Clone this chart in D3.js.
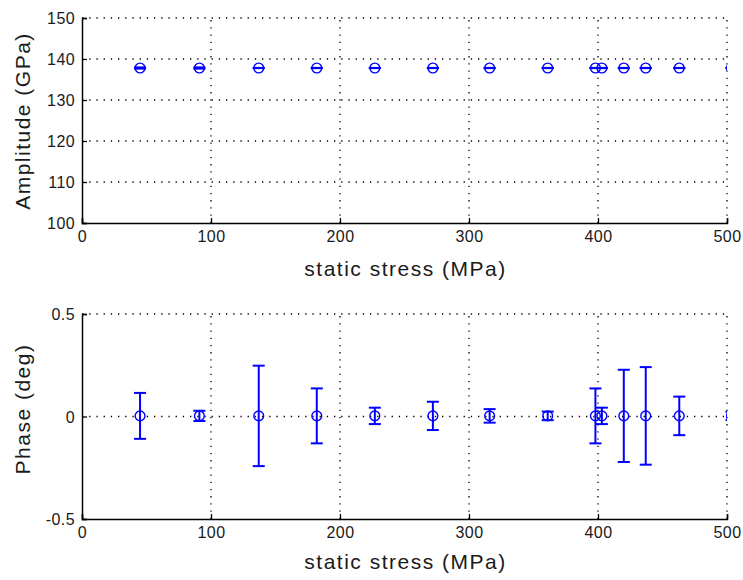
<!DOCTYPE html>
<html>
<head>
<meta charset="utf-8">
<script src="https://cdn.jsdelivr.net/npm/d3@7"></script>
<style>
  html, body { margin: 0; padding: 0; background: #fff; }
  svg { display: block; }
  .tick text { font-family: "Liberation Sans", Arial, sans-serif; font-size: 16px; fill: #1a1a1a; letter-spacing: 0.4px; }
  .lbl { font-family: "Liberation Sans", Arial, sans-serif; font-size: 21px; fill: #1a1a1a; letter-spacing: 1.5px; }
</style>
</head>
<body>
<svg id="chart" width="743" height="580"></svg>
<script>
// static stress levels (MPa)
const stress = [45, 91, 137, 182, 227, 272, 316, 361, 398, 403, 420, 437, 463, 503.5];
// amplitude (GPa) and its uncertainty
const amplitude = [137.8, 137.8, 137.8, 137.8, 137.8, 137.8, 137.8, 137.8, 137.8, 137.8, 137.8, 137.8, 137.8, 137.8];
const amplitudeErr = [0.15, 0.15, 0.03, 0.03, 0.03, 0.03, 0.03, 0.03, 0.03, 0.03, 0.03, 0.03, 0.03, 0.03];
// phase (deg) and its uncertainty
const phase = [0.003, 0.003, 0.003, 0.003, 0.003, 0.003, 0.003, 0.003, 0.003, 0.003, 0.003, 0.003, 0.003, 0.003];
const phaseErr = [0.112, 0.025, 0.245, 0.134, 0.04, 0.069, 0.033, 0.021, 0.134, 0.04, 0.225, 0.238, 0.094, 0.02];
// tick labels
const xTicks = [0, 100, 200, 300, 400, 500];
const ampTicks = [100, 110, 120, 130, 140, 150];
const phaseTicks = [-0.5, 0, 0.5];
const phaseTickLabels = ["-0.5", "0", "0.5"];

const svg = d3.select("#chart");
const blue = "#0000ff";
const capHalf = 6;

function panel(opts) {
  const { top, bottom, yDomain, yTicks, yFmt, yValues, yErr, ylabel, ylabelY, xlabelY, id } = opts;
  const x = d3.scaleLinear().domain([0, 500]).range([82, 727]);
  const y = d3.scaleLinear().domain(yDomain).range([bottom, top]);
  const g = svg.append("g");

  // dotted grid
  const grid = g.append("g").attr("stroke", "#000").attr("stroke-width", 1.3)
    .attr("stroke-dasharray", "1.3 5.9");
  grid.selectAll(".gx").data(xTicks.filter(t => t !== 0)).join("line")
    .attr("x1", d => x(d)).attr("x2", d => x(d))
    .attr("y1", y(yDomain[0])).attr("y2", y(yDomain[1]));
  grid.selectAll(".gy").data(yTicks.filter(t => t !== yDomain[0])).join("line")
    .attr("y1", d => y(d)).attr("y2", d => y(d))
    .attr("x1", x(0)).attr("x2", x(500));

  // axes with inward ticks
  const xAxis = d3.axisBottom(x).tickValues(xTicks).tickSize(-5).tickPadding(8).tickFormat(d3.format("d"));
  const gx = g.append("g").attr("transform", `translate(0,${bottom})`).call(xAxis);
  const yAxis = d3.axisLeft(y).tickValues(yTicks).tickSize(-5).tickPadding(7).tickFormat(yFmt);
  const gy = g.append("g").attr("transform", `translate(${x(0)},0)`).call(yAxis);
  [gx, gy].forEach(a => {
    a.select(".domain").attr("stroke", "#000").attr("stroke-width", 1.5);
    a.selectAll(".tick line").attr("stroke", "#000").attr("stroke-width", 1.3);
  });
  gy.selectAll(".tick text").attr("dy", "0.36em");

  // axis titles
  g.append("text").attr("class", "lbl").attr("text-anchor", "middle")
    .attr("x", (x(0) + x(500)) / 2 + 1).attr("y", xlabelY).text("static stress (MPa)");
  g.append("text").attr("class", "lbl").attr("text-anchor", "middle")
    .attr("transform", `translate(30,${ylabelY}) rotate(-90)`).text(ylabel);

  // data, clipped to the plotting box
  svg.append("clipPath").attr("id", id).append("rect")
    .attr("x", x(0)).attr("y", top - 10).attr("width", x(500) - x(0)).attr("height", bottom - top + 20);
  const d = g.append("g").attr("clip-path", `url(#${id})`);
  const pts = stress.map((s, i) => ({ s, v: yValues[i], e: yErr[i] }));
  const eb = d.append("g").attr("stroke", blue).attr("stroke-width", 2).attr("fill", "none");
  eb.selectAll(".v").data(pts).join("line")
    .attr("x1", p => x(p.s)).attr("x2", p => x(p.s))
    .attr("y1", p => y(p.v - p.e)).attr("y2", p => y(p.v + p.e));
  eb.selectAll(".ct").data(pts).join("line")
    .attr("x1", p => x(p.s) - capHalf).attr("x2", p => x(p.s) + capHalf)
    .attr("y1", p => y(p.v + p.e)).attr("y2", p => y(p.v + p.e));
  eb.selectAll(".cb").data(pts).join("line")
    .attr("x1", p => x(p.s) - capHalf).attr("x2", p => x(p.s) + capHalf)
    .attr("y1", p => y(p.v - p.e)).attr("y2", p => y(p.v - p.e));
  d.append("g").selectAll("circle").data(pts).join("circle")
    .attr("cx", p => x(p.s)).attr("cy", p => y(p.v)).attr("r", 4.9)
    .attr("fill", "none").attr("stroke", blue).attr("stroke-width", 1.4);
}

panel({
  id: "clipA", top: 18, bottom: 223, yDomain: [100, 150], yTicks: ampTicks,
  yFmt: d3.format("d"), yValues: amplitude, yErr: amplitudeErr,
  ylabel: "Amplitude (GPa)", ylabelY: 121, xlabelY: 276
});
panel({
  id: "clipB", top: 314, bottom: 519, yDomain: [-0.5, 0.5], yTicks: phaseTicks,
  yFmt: (d, i) => phaseTickLabels[i], yValues: phase, yErr: phaseErr,
  ylabel: "Phase (deg)", ylabelY: 409, xlabelY: 569
});
</script>
</body>
</html>
